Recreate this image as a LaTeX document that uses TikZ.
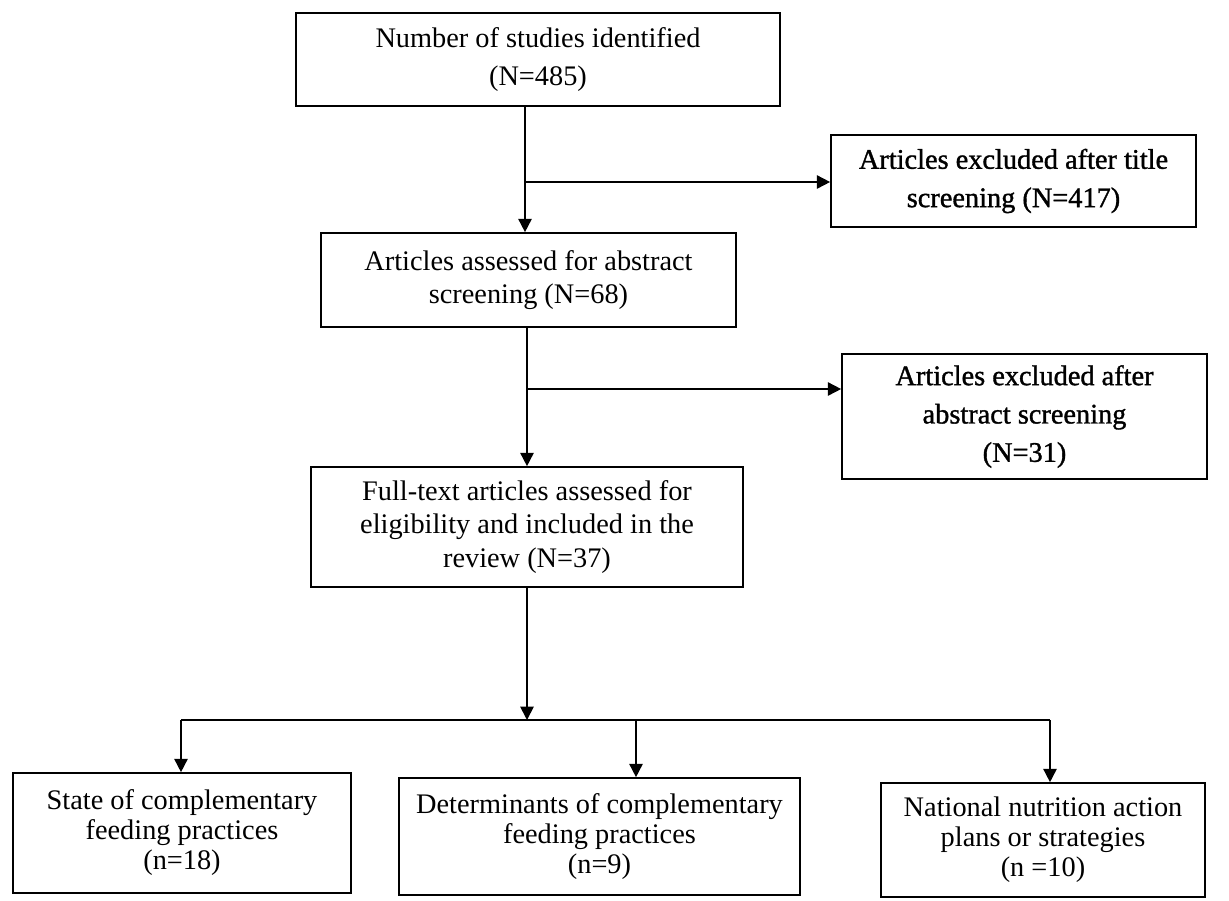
\documentclass[tikz,border=0pt]{standalone}
\usepackage{fontspec}
\setmainfont{Liberation Serif}
\newfontfamily\heavyfont[FakeBold=1.2]{Liberation Serif}
\usetikzlibrary{arrows.meta}
\begin{document}
\begin{tikzpicture}[x=0.6pt,y=-0.6pt,
  box/.style={draw, line width=1pt, inner sep=0pt, align=center, font=\fontsize{17}{20}\selectfont},
  wide/.style={font=\fontsize{17}{23}\selectfont},
  heavy/.style={font=\heavyfont\fontsize{17}{23}\selectfont},
  low/.style={font=\fontsize{17}{18}\selectfont},
  arr/.style={line width=1pt, -{Triangle[length=8pt,width=8pt]}},
  ln/.style={line width=1pt}]
\useasboundingbox (0,0) rectangle (1229,900);

\node[box, wide, minimum width=290.4pt, minimum height=55.8pt] (box1) at (538,59.5)
  {Number of studies identified\\(N=485)};
\node[box, heavy, minimum width=219pt, minimum height=55.2pt] (box2) at (1013.5,181)
  {Articles excluded after title\\screening (N=417)};
\node[box, minimum width=249pt, minimum height=56.4pt] (box3) at (528.5,280)
  {Articles assessed for abstract\\screening (N=68)};
\node[box, heavy, minimum width=219pt, minimum height=75pt] (box4) at (1024.5,416.5)
  {Articles excluded after\\abstract screening\\(N=31)};
\node[box, minimum width=259.2pt, minimum height=72pt] (box5) at (527,527)
  {Full-text articles assessed for\\eligibility and included in the\\review (N=37)};
\node[box, low, minimum width=202.8pt, minimum height=72pt] (box6) at (182,833)
  {State of complementary\\feeding practices\\(n=18)};
\node[box, low, minimum width=240.6pt, minimum height=70.2pt] (box7) at (599.5,836.5)
  {Determinants of complementary\\feeding practices\\(n=9)};
\node[box, low, minimum width=194.4pt, minimum height=68.4pt] (box8) at (1043,840)
  {National nutrition action\\plans or strategies\\(n =10)};

\coordinate (a1) at (525,0);
\draw[arr] (box1.south -| a1) -- (box3.north -| a1);
\coordinate (b1) at (525,182);
\draw[arr] (b1) -- (b1 -| box2.west);

\coordinate (a2) at (527,0);
\draw[arr] (box3.south -| a2) -- (box5.north -| a2);
\coordinate (b2) at (527,389);
\draw[arr] (b2) -- (b2 -| box4.west);

\coordinate (bus) at (527,720);
\draw[arr] (box5.south -| bus) -- (bus);
\coordinate (bl) at (181,720);
\coordinate (bm) at (636,720);
\coordinate (br) at (1050,720);
\draw[ln] (bl) -- (br);
\draw[arr] (bl) -- (bl |- box6.north);
\draw[arr] (bm) -- (bm |- box7.north);
\draw[arr] (br) -- (br |- box8.north);
\end{tikzpicture}
\end{document}
